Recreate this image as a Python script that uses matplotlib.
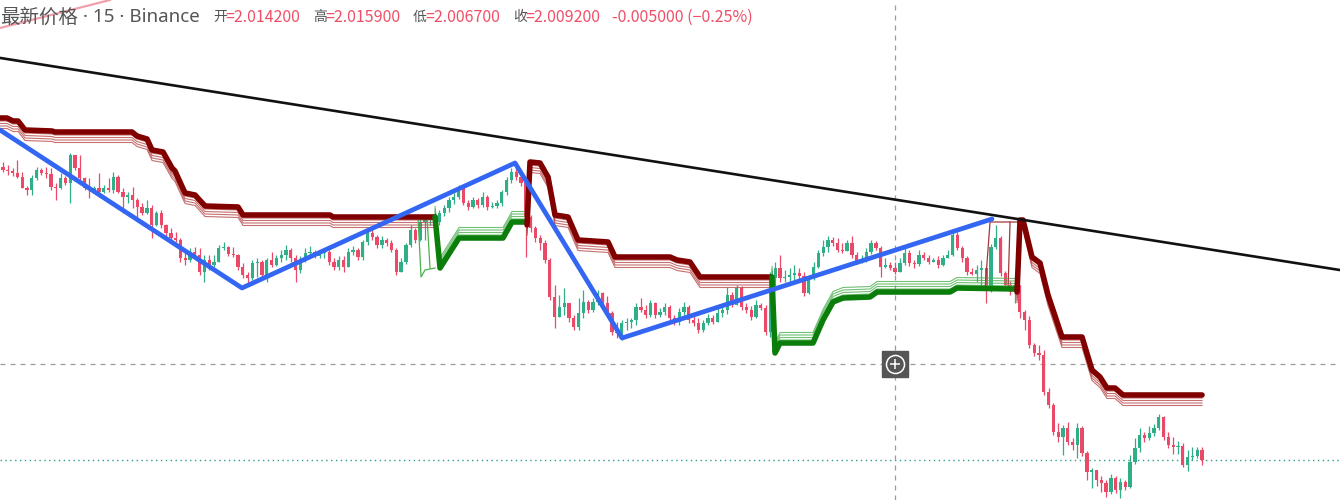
import matplotlib
matplotlib.use("Agg")
import matplotlib.pyplot as plt
import numpy as np

plt.rcParams['font.family'] = ['Noto Sans CJK SC', 'DejaVu Sans']

# 15m candles, open of each bar = previous close
first_open = 2.1557
closes = [
    2.1542, 2.1537, 2.1527, 2.1507, 2.1452, 2.1442, 2.1502, 2.1542, 2.1527, 2.1522,
    2.1457, 2.1452, 2.1502, 2.1477, 2.1617, 2.1552, 2.1502, 2.1452, 2.1442, 2.1452,
    2.1432, 2.1452, 2.1442, 2.1507, 2.1432, 2.1407, 2.1417, 2.1392, 2.1357, 2.1327,
    2.1352, 2.1267, 2.1327, 2.1267, 2.1227, 2.1202, 2.1192, 2.1102, 2.1092, 2.1132,
    2.1117, 2.1032, 2.1092, 2.1067, 2.1082, 2.1152, 2.1157, 2.1122, 2.1117, 2.1057,
    2.1017, 2.1002, 2.1077, 2.1082, 2.1017, 2.1092, 2.1067, 2.1102, 2.1117, 2.1142,
    2.1102, 2.1042, 2.1092, 2.1127, 2.1132, 2.1112, 2.1127, 2.1132, 2.1082, 2.1057,
    2.1092, 2.1057, 2.1132, 2.1142, 2.1107, 2.1182, 2.1227, 2.1207, 2.1167, 2.1192,
    2.1177, 2.1142, 2.1032, 2.1082, 2.1167, 2.1242, 2.1192, 2.1282, 2.1302, 2.1307,
    2.1282, 2.1327, 2.1352, 2.1392, 2.1407, 2.1452, 2.1377, 2.1357, 2.1392, 2.1367,
    2.1407, 2.1357, 2.1362, 2.1377, 2.1432, 2.1492, 2.1532, 2.1507, 2.1477, 2.1307,
    2.1252, 2.1202, 2.1177, 2.1092, 2.0907, 2.0807, 2.0857, 2.0877, 2.0802, 2.0757,
    2.0827, 2.0882, 2.0842, 2.0882, 2.0927, 2.0877, 2.0827, 2.0732, 2.0727, 2.0777,
    2.0782, 2.0792, 2.0857, 2.0842, 2.0817, 2.0877, 2.0817, 2.0832, 2.0857, 2.0802,
    2.0782, 2.0832, 2.0857, 2.0792, 2.0777, 2.0742, 2.0777, 2.0802, 2.0782, 2.0827,
    2.0842, 2.0917, 2.0867, 2.0952, 2.0857, 2.0842, 2.0807, 2.0867, 2.0852, 2.0732,
    2.1002, 2.1052, 2.1002, 2.1007, 2.1017, 2.1027, 2.1012, 2.0927, 2.1002, 2.1057,
    2.1127, 2.1157, 2.1192, 2.1177, 2.1142, 2.1137, 2.1177, 2.1117, 2.1082, 2.1092,
    2.1132, 2.1177, 2.1152, 2.1057, 2.1067, 2.1052, 2.1032, 2.1077, 2.1127, 2.1077,
    2.1072, 2.1117, 2.1102, 2.1082, 2.1092, 2.1067, 2.1102, 2.1117, 2.1217, 2.1152,
    2.1102, 2.1032, 2.1022, 2.1042, 2.1052, 2.0942, 2.1157, 2.1202, 2.1027, 2.0967,
    2.0932, 2.0967, 2.0832, 2.0792, 2.0667, 2.0627, 2.0617, 2.0432, 2.0367, 2.0232,
    2.0207, 2.0252, 2.0182, 2.0167, 2.0252, 2.0127, 2.0032, 2.0042, 1.9992, 1.9977,
    1.9932, 2.0002, 1.9942, 1.9982, 1.9957, 2.0082, 2.0152, 2.0217, 2.0202, 2.0227,
    2.0252, 2.0307, 2.0207, 2.0167, 2.0157, 2.0162, 2.0067, 2.0107, 2.0112, 2.0142,
    2.0092]
highs = [
    2.1582, 2.1567, 2.1552, 2.1592, 2.1532, 2.1462, 2.1517, 2.1557, 2.1552, 2.1557,
    2.1552, 2.1477, 2.1527, 2.1512, 2.1627, 2.1617, 2.1617, 2.1507, 2.1502, 2.1462,
    2.1527, 2.1467, 2.1502, 2.1532, 2.1517, 2.1452, 2.1432, 2.1457, 2.1402, 2.1377,
    2.1392, 2.1367, 2.1337, 2.1342, 2.1272, 2.1252, 2.1232, 2.1202, 2.1132, 2.1152,
    2.1157, 2.1152, 2.1117, 2.1117, 2.1117, 2.1167, 2.1182, 2.1162, 2.1157, 2.1122,
    2.1077, 2.1032, 2.1092, 2.1102, 2.1092, 2.1102, 2.1132, 2.1117, 2.1142, 2.1167,
    2.1152, 2.1117, 2.1112, 2.1152, 2.1162, 2.1142, 2.1142, 2.1152, 2.1142, 2.1102,
    2.1112, 2.1112, 2.1152, 2.1162, 2.1152, 2.1192, 2.1242, 2.1242, 2.1217, 2.1212,
    2.1202, 2.1192, 2.1152, 2.1102, 2.1177, 2.1267, 2.1252, 2.1302, 2.1322, 2.1322,
    2.1317, 2.1342, 2.1367, 2.1407, 2.1427, 2.1467, 2.1442, 2.1392, 2.1407, 2.1402,
    2.1432, 2.1417, 2.1382, 2.1392, 2.1442, 2.1507, 2.1552, 2.1562, 2.1532, 2.1492,
    2.1317, 2.1262, 2.1217, 2.1192, 2.1102, 2.0967, 2.0917, 2.0952, 2.0867, 2.0817,
    2.0902, 2.0942, 2.0892, 2.0902, 2.0942, 2.0932, 2.0912, 2.0837, 2.0782, 2.0792,
    2.0802, 2.0802, 2.0877, 2.0902, 2.0867, 2.0892, 2.0882, 2.0852, 2.0877, 2.0867,
    2.0817, 2.0852, 2.0882, 2.0867, 2.0812, 2.0802, 2.0792, 2.0822, 2.0817, 2.0852,
    2.0867, 2.0957, 2.0932, 2.0967, 2.0962, 2.0877, 2.0862, 2.0892, 2.0877, 2.0867,
    2.1032, 2.1082, 2.1117, 2.1042, 2.1052, 2.1067, 2.1052, 2.1032, 2.1017, 2.1082,
    2.1142, 2.1192, 2.1212, 2.1207, 2.1202, 2.1177, 2.1192, 2.1212, 2.1132, 2.1117,
    2.1152, 2.1192, 2.1187, 2.1162, 2.1102, 2.1082, 2.1082, 2.1102, 2.1167, 2.1142,
    2.1092, 2.1142, 2.1132, 2.1117, 2.1102, 2.1112, 2.1117, 2.1142, 2.1242, 2.1232,
    2.1162, 2.1112, 2.1052, 2.1067, 2.1092, 2.1042, 2.1172, 2.1267, 2.1212, 2.1037,
    2.0987, 2.0982, 2.0967, 2.0842, 2.0812, 2.0677, 2.0667, 2.0642, 2.0452, 2.0377,
    2.0277, 2.0267, 2.0282, 2.0202, 2.0277, 2.0262, 2.0137, 2.0052, 2.0042, 2.0012,
    1.9992, 2.0022, 2.0012, 2.0002, 1.9992, 2.0117, 2.0202, 2.0252, 2.0232, 2.0262,
    2.0272, 2.0322, 2.0312, 2.0232, 2.0207, 2.0187, 2.0177, 2.0142, 2.0157, 2.0157,
    2.0159]
lows = [
    2.1532, 2.1517, 2.1512, 2.1502, 2.1452, 2.1417, 2.1417, 2.1492, 2.1517, 2.1502,
    2.1442, 2.1392, 2.1447, 2.1467, 2.1377, 2.1542, 2.1492, 2.1442, 2.1402, 2.1427,
    2.1407, 2.1427, 2.1432, 2.1427, 2.1427, 2.1327, 2.1377, 2.1352, 2.1302, 2.1317,
    2.1322, 2.1202, 2.1262, 2.1252, 2.1212, 2.1182, 2.1182, 2.1082, 2.1067, 2.1082,
    2.1102, 2.1017, 2.0982, 2.1042, 2.1057, 2.1092, 2.1142, 2.1112, 2.1107, 2.1042,
    2.1002, 2.0977, 2.0992, 2.1007, 2.1002, 2.0982, 2.1057, 2.1062, 2.1082, 2.1092,
    2.1082, 2.0982, 2.1027, 2.1082, 2.1112, 2.1102, 2.1102, 2.1102, 2.1067, 2.1042,
    2.1042, 2.1032, 2.1077, 2.1117, 2.1092, 2.1092, 2.1167, 2.1192, 2.1152, 2.1152,
    2.1162, 2.1132, 2.1017, 2.1032, 2.1072, 2.1157, 2.1177, 2.1187, 2.1192, 2.1267,
    2.1272, 2.1267, 2.1312, 2.1332, 2.1372, 2.1397, 2.1367, 2.1342, 2.1352, 2.1352,
    2.1357, 2.1342, 2.1352, 2.1352, 2.1362, 2.1417, 2.1477, 2.1492, 2.1462, 2.1107,
    2.1232, 2.1182, 2.1142, 2.1077, 2.0892, 2.0752, 2.0812, 2.0817, 2.0782, 2.0742,
    2.0742, 2.0802, 2.0827, 2.0832, 2.0867, 2.0862, 2.0812, 2.0717, 2.0702, 2.0692,
    2.0742, 2.0752, 2.0767, 2.0832, 2.0802, 2.0807, 2.0802, 2.0807, 2.0817, 2.0787,
    2.0767, 2.0767, 2.0817, 2.0777, 2.0762, 2.0727, 2.0732, 2.0767, 2.0772, 2.0782,
    2.0807, 2.0822, 2.0857, 2.0867, 2.0842, 2.0827, 2.0792, 2.0802, 2.0842, 2.0717,
    2.0707, 2.0942, 2.0982, 2.0982, 2.0967, 2.0992, 2.0982, 2.0912, 2.0922, 2.0992,
    2.1052, 2.1112, 2.1132, 2.1162, 2.1132, 2.1127, 2.1162, 2.1102, 2.1072, 2.1077,
    2.1082, 2.1122, 2.1142, 2.1007, 2.1052, 2.1042, 2.1022, 2.1032, 2.1067, 2.1062,
    2.1052, 2.1062, 2.1092, 2.1072, 2.1082, 2.1052, 2.1062, 2.1102, 2.1112, 2.1142,
    2.1082, 2.1017, 2.1017, 2.0982, 2.0942, 2.0877, 2.0932, 2.1147, 2.1012, 2.0952,
    2.0917, 2.0877, 2.0802, 2.0742, 2.0652, 2.0612, 2.0592, 2.0417, 2.0352, 2.0217,
    2.0182, 2.0117, 2.0167, 2.0142, 2.0102, 2.0112, 1.9992, 1.9952, 1.9962, 1.9932,
    1.9907, 1.9922, 1.9927, 1.9902, 1.9942, 1.9952, 2.0072, 2.0132, 2.0182, 2.0192,
    2.0212, 2.0242, 2.0192, 2.0152, 2.0122, 2.0122, 2.0057, 2.0037, 2.0092, 2.0102,
    2.0067]

# trailing stop segments (bar index, price)
stop_dn1_x = [-0.63, 0.83, 2.09, 3.13, 4.59, 10.22, 10.84, 26.90, 27.94, 30.03, 31.07,
              33.36, 35.24, 35.86, 37.95, 40.03, 42.12, 49.0, 50.04, 68.18, 68.81, 90.08]
stop_dn1_y = [2.1802, 2.1802, 2.1787, 2.1787, 2.1742, 2.1737, 2.1732, 2.1732, 2.1712, 2.1697, 2.1642,
              2.1632, 2.1552, 2.1537, 2.1427, 2.1417, 2.1362, 2.1357, 2.1317, 2.1317, 2.1307, 2.1307]
stop_up1_x = [90.08, 91.12, 95.08, 104.25, 106.13, 108.84]
stop_up1_y = [2.1307, 2.1052, 2.1202, 2.1202, 2.1282, 2.1282]
stop_dn2_x = [109.26, 109.88, 111.97, 113.64, 115.10, 117.81, 119.89, 126.15, 127.61,
              139.08, 140.53, 143.24, 145.33, 160.13]
stop_dn2_y = [2.1267, 2.1582, 2.1577, 2.1507, 2.1317, 2.1307, 2.1192, 2.1182, 2.1107,
              2.1107, 2.1092, 2.1082, 2.1007, 2.1007]
stop_up2_x = [160.34, 160.97, 162.01, 168.89, 170.98, 173.06, 175.15, 180.78, 182.24,
              197.46, 198.92, 211.01]
stop_up2_y = [2.1007, 2.0627, 2.0677, 2.0677, 2.0792, 2.0882, 2.0902, 2.0907, 2.0932,
              2.0932, 2.0952, 2.0947]
stop_dn3_x = [211.43, 212.05, 212.68, 214.55, 216.22, 217.89, 220.81, 224.98, 227.06,
              228.73, 230.19, 231.86, 233.53, 250.0]
stop_dn3_y = [2.0932, 2.1292, 2.1292, 2.1107, 2.1077, 2.0917, 2.0707, 2.0707, 2.0542,
              2.0507, 2.0452, 2.0452, 2.0417, 2.0417]

# thin lines where the band flips early
flip_up_a_x = [86.53, 87.16, 87.99, 90.08]
flip_up_a_y = [2.1307, 2.1007, 2.1042, 2.1052]
flip_up_b_x = [88.41, 89.03]
flip_up_b_y = [2.1307, 2.1052]
flip_dn_a_x = [204.75, 205.80, 211.43]
flip_dn_a_y = [2.0942, 2.1282, 2.1282]
flip_dn_b_x = [209.55, 209.97]
flip_dn_b_y = [2.0942, 2.1282]

zigzag_x = [-0.63, 49.83, 106.76, 129.07, 206.2]
zigzag_y = [2.1742, 2.0952, 2.1577, 2.0702, 2.1297]

trend_x = [0, 250]
trend_y = [2.2100, 2.1151]
trend2_x = [-0.63, 22.3]
trend2_y = [2.2252, 2.2392]

cross_x = 186.0
cross_y = 2.0572

GREEN = '#2fae88'
RED = '#ea4a68'

fig = plt.figure(figsize=(13.4, 5), dpi=100)
ax = fig.add_axes([0, 0, 1, 1])
ax.set_xlim(-0.63, 278.77)
ax.set_ylim(1.9892, 2.2392)
ax.axis('off')

# candles
c = np.array(closes)
o = np.concatenate([[first_open], c[:-1]])
h = np.maximum(np.array(highs), np.maximum(o, c))
l = np.minimum(np.array(lows), np.minimum(o, c))
idx = np.arange(len(c))
cols = np.where(c >= o, GREEN, RED)
ax.vlines(idx, l, h, colors=cols, lw=0.9, zorder=2)
ax.bar(idx, np.maximum(np.abs(c - o), 0.0004), bottom=np.minimum(o, c),
       width=0.68, color=cols, linewidth=0, zorder=2)

# last price and crosshair
ax.axhline(closes[-1], color='#2a9d8f', lw=1, ls=(0, (1, 2.5)), zorder=1)
ax.axvline(cross_x, color='#9a9ca3', lw=0.9, ls=(0, (4, 4)), zorder=1)
ax.axhline(cross_y, color='#9a9ca3', lw=0.9, ls=(0, (4, 4)), zorder=1)


def stop_line(xs, ys, color, fan_color, sign):
    ys = np.array(ys)
    for off in [0.0015, 0.00275, 0.004, 0.00525]:
        ax.plot(xs, ys + sign * off, color=fan_color, lw=0.8, alpha=0.8, zorder=3)
    ax.plot(xs, ys, color=color, lw=4.0, zorder=4,
            solid_capstyle='round', solid_joinstyle='round')


MAROON = '#800000'
DKGREEN = '#0a7d0a'
stop_line(stop_dn1_x, stop_dn1_y, MAROON, '#b94a4a', -1)
stop_line(stop_up1_x, stop_up1_y, DKGREEN, '#4caf50', 1)
stop_line(stop_dn2_x, stop_dn2_y, MAROON, '#b94a4a', -1)
stop_line(stop_up2_x, stop_up2_y, DKGREEN, '#4caf50', 1)
stop_line(stop_dn3_x, stop_dn3_y, MAROON, '#b94a4a', -1)

ax.plot(flip_up_a_x, flip_up_a_y, color='#4caf50', lw=0.9, zorder=3)
ax.plot(flip_up_b_x, flip_up_b_y, color='#4caf50', lw=0.9, zorder=3)
ax.plot(flip_dn_a_x, flip_dn_a_y, color='#a03a3a', lw=0.9, zorder=3)
ax.plot(flip_dn_b_x, flip_dn_b_y, color='#a03a3a', lw=0.9, zorder=3)

# zigzag and trend lines
ax.plot(zigzag_x, zigzag_y, color='#3366f2', lw=3.4, zorder=5,
        solid_capstyle='round', solid_joinstyle='round')
ax.axline((trend_x[0], trend_y[0]), (trend_x[1], trend_y[1]), color='#111111', lw=1.9, zorder=6)
ax.axline((trend2_x[0], trend2_y[0]), (trend2_x[1], trend2_y[1]), color='#f0a0aa', lw=1.6, zorder=6)

# crosshair label
ax.plot([cross_x], [cross_y], marker='s', ms=18.5, mfc='#555555', mec='#555555', zorder=7)
ax.plot([cross_x], [cross_y], marker='o', ms=13, mfc='none', mec='white', mew=1.1, zorder=8)
ax.plot([cross_x], [cross_y], marker='+', ms=7.5, mec='white', mew=1.1, zorder=8)

# header
GREY = '#555555'
VAL = '#ef4f66'
ty = 1 - 17 / 500
fig.text(0 / 1340, ty, '最新价格', color=GREY, fontsize=14, va='center')
fig.text(78 / 1340, ty, ' · 15 · Binance', color=GREY, fontsize=13.5, va='center',
         family=['Noto Sans', 'DejaVu Sans'])

ohlc_labels = ['开', '高', '低', '收']
ohlc_vals = [o[-1], h[-1], l[-1], c[-1]]
for k, (lab, v) in enumerate(zip(ohlc_labels, ohlc_vals)):
    x0 = 213 + 100 * k
    fig.text(x0 / 1340, ty, lab, color=GREY, fontsize=10, va='center')
    fig.text((x0 + 12) / 1340, ty, f'={v:.6f}', color=VAL, fontsize=11.5, va='center')
chg = c[-1] - o[-1]
pct = chg / o[-1] * 100
fig.text(612 / 1340, ty, f'{chg:.6f} ({pct:.2f}%)'.replace('(-', '(\u2212'),
         color=VAL, fontsize=11.5, va='center')

fig.savefig('out.png', dpi=100)
